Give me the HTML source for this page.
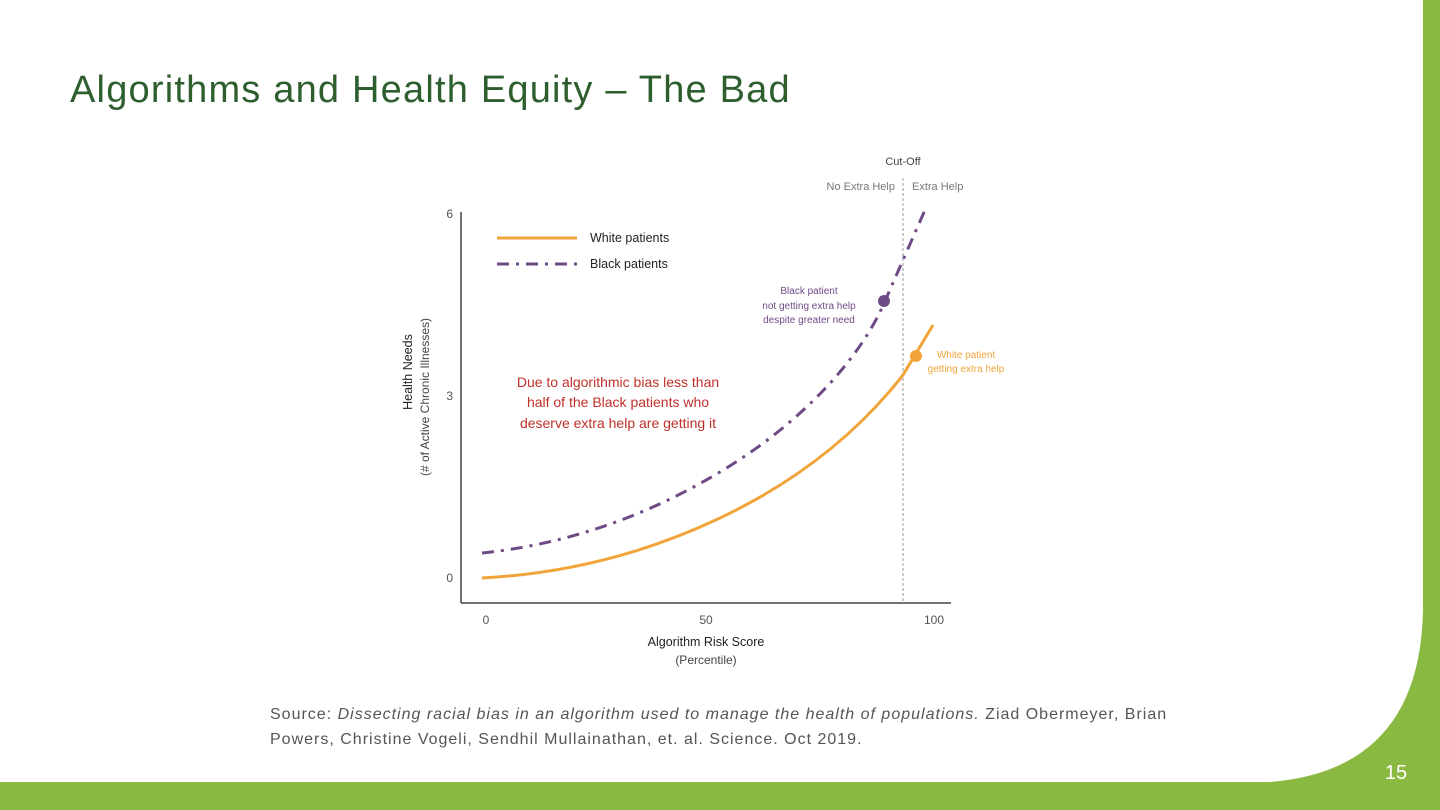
<!DOCTYPE html>
<html><head><style>
body{margin:0;width:1440px;height:810px;overflow:hidden;background:#fff;font-family:"Liberation Sans",sans-serif;position:relative}
h1{position:absolute;left:70px;top:69px;margin:0;font-weight:normal;font-size:38px;color:#2e5e2e;font-family:"Liberation Sans",sans-serif;letter-spacing:1.2px}
.src{position:absolute;left:270px;top:702px;font-size:16px;color:#555;line-height:25px;letter-spacing:1px}
</style></head><body>
<svg width="1440" height="810" style="position:absolute;left:0;top:0">
<path d="M1423 0 H1440 V810 H0 V782 H1270 Q1420 770 1423 610 Z" fill="#8ab942"/>
<text x="1396" y="779" font-size="20" fill="#fff" text-anchor="middle" font-family="Liberation Sans">15</text>
<g font-family="Liberation Sans" >
<line x1="461" y1="212" x2="461" y2="603" stroke="#444" stroke-width="1.5"/>
<line x1="461" y1="603" x2="951" y2="603" stroke="#444" stroke-width="1.5"/>
<line x1="903" y1="178" x2="903" y2="603" stroke="#999" stroke-width="1" stroke-dasharray="3,2"/>
<text x="903" y="165" font-size="11" fill="#444" text-anchor="middle">Cut-Off</text>
<text x="895" y="190" font-size="11" fill="#777" text-anchor="end">No Extra Help</text>
<text x="912" y="190" font-size="11" fill="#777">Extra Help</text>
<text x="453" y="218" font-size="12" fill="#555" text-anchor="end">6</text>
<text x="453" y="400" font-size="12" fill="#555" text-anchor="end">3</text>
<text x="453" y="582" font-size="12" fill="#555" text-anchor="end">0</text>
<text x="486" y="624" font-size="12" fill="#555" text-anchor="middle">0</text>
<text x="706" y="624" font-size="12" fill="#555" text-anchor="middle">50</text>
<text x="934" y="624" font-size="12" fill="#555" text-anchor="middle">100</text>
<text x="706" y="646" font-size="12.5" fill="#222" text-anchor="middle">Algorithm Risk Score</text>
<text x="706" y="664" font-size="12" fill="#444" text-anchor="middle">(Percentile)</text>
<text transform="translate(412,372) rotate(-90)" font-size="12.5" fill="#222" text-anchor="middle">Health Needs</text>
<text transform="translate(429,397) rotate(-90)" font-size="12" fill="#444" text-anchor="middle">(# of Active Chronic Illnesses)</text>
<line x1="497" y1="238" x2="577" y2="238" stroke="#f0a43a" stroke-width="3"/>
<line x1="497" y1="264" x2="577" y2="264" stroke="#6e4a86" stroke-width="3" stroke-dasharray="12,7,3,7"/>
<text x="590" y="242" font-size="12.5" fill="#222">White patients</text>
<text x="590" y="268" font-size="12.5" fill="#222">Black patients</text>
<path d="M482 578 C560 574 640 556 720 518 C800 480 860 430 903 375 L933 325" fill="none" stroke="#f0a43a" stroke-width="3"/>
<path d="M482 553 C560 545 640 520 720 472 C800 424 860 360 885 301 L925 210" fill="none" stroke="#6e4a86" stroke-width="3" stroke-dasharray="12,7,3,7"/>
<circle cx="884" cy="301" r="6" fill="#6e4a86"/>
<circle cx="916" cy="356" r="6" fill="#f0a43a"/>
<g font-size="10" fill="#6e4a86" text-anchor="middle"><text x="809" y="294">Black patient</text><text x="809" y="309">not getting extra help</text><text x="809" y="323">despite greater need</text></g>
<g font-size="10" fill="#f0a43a" text-anchor="middle"><text x="966" y="358">White patient</text><text x="966" y="372">getting extra help</text></g>
<g font-size="14" fill="#c0302a" text-anchor="middle"><text x="618" y="387">Due to algorithmic bias less than</text><text x="618" y="407">half of the Black patients who</text><text x="618" y="428">deserve extra help are getting it</text></g>
</g></svg>
<h1>Algorithms and Health Equity – The Bad</h1>
<div class="src">Source: <i>Dissecting racial bias in an algorithm used to manage the health of populations.</i> Ziad Obermeyer, Brian<br>Powers, Christine Vogeli, Sendhil Mullainathan, et. al. Science. Oct 2019.</div>
</body></html>
